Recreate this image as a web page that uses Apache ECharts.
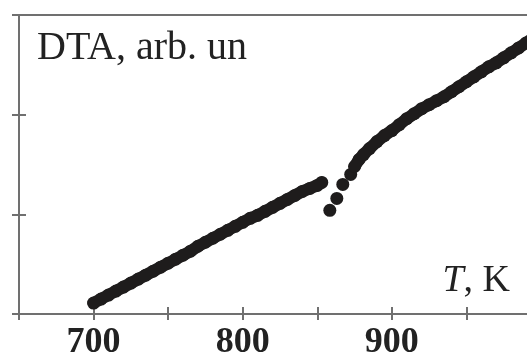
<!DOCTYPE html>
<html>
<head>
<meta charset="utf-8">
<script src="https://cdn.jsdelivr.net/npm/echarts@6.0.0/dist/echarts.min.js"></script>
<style>
  html, body { margin: 0; padding: 0; background: #fff; }
  #chart { width: 527px; height: 358px; }
</style>
</head>
<body>
<div id="chart"></div>
<script>
// temperature (K) and DTA signal (arb. units)
const lowT = [700, 705, 710, 715, 720, 725, 730, 735, 740, 745, 750, 755, 760, 765, 770, 775,
  780, 785, 790, 795, 800, 805, 810, 815, 820, 825, 830, 835, 840, 845, 850, 853];
const lowDTA = [0.11, 0.15, 0.19, 0.23, 0.27, 0.31, 0.35, 0.39, 0.43, 0.47, 0.51, 0.55, 0.59, 0.63, 0.68, 0.72,
  0.76, 0.80, 0.84, 0.88, 0.92, 0.96, 0.99, 1.03, 1.07, 1.11, 1.15, 1.19, 1.23, 1.26, 1.29, 1.32];

// isolated points in the jump
const jumpT = [858.4, 863.1, 867.1, 872.4];
const jumpDTA = [1.04, 1.16, 1.30, 1.40];

const highT = [875, 878, 881, 885, 890, 895, 900, 905, 910, 915, 920, 925, 930, 935, 940, 945,
  950, 955, 960, 965, 970, 975, 980, 985, 990, 995, 1000];
const highDTA = [1.48, 1.55, 1.60, 1.66, 1.73, 1.79, 1.84, 1.90, 1.96, 2.01, 2.06, 2.10, 2.14, 2.18, 2.23, 2.28,
  2.33, 2.38, 2.43, 2.48, 2.52, 2.57, 2.62, 2.67, 2.72, 2.77, 2.81];

const xLabels = [700, 800, 900];

const zip = (xs, ys) => xs.map((x, i) => [x, ys[i]]);
const lowData = zip(lowT, lowDTA);
const jumpData = zip(jumpT, jumpDTA);
const highData = zip(highT, highDTA);

const axisColor = "#707070";
const dotColor = "#1e1c1c";
const serif = "Liberation Serif";

const chart = echarts.init(document.getElementById("chart"));

const option = {
  animation: false,
  grid: { left: 19, right: -14, top: 15, bottom: 44, outerBoundsMode: "none", containLabel: false },
  title: [
    {
      text: "DTA, arb. un",
      left: 32,
      top: 23,
      textStyle: { fontFamily: serif, fontSize: 40, fontWeight: "normal", color: "#222" }
    },
    {
      text: "{i|T}{n|, K}",
      right: 12,
      top: 257,
      textStyle: {
        fontWeight: "normal",
        rich: {
          i: { fontFamily: serif, fontSize: 38, fontStyle: "italic", fontWeight: "normal", color: "#222" },
          n: { fontFamily: serif, fontSize: 38, fontWeight: "normal", color: "#222" }
        }
      }
    }
  ],
  xAxis: [
    {
      type: "value",
      position: "bottom",
      min: 650,
      max: 1000,
      interval: 50,
      splitLine: { show: false },
      axisLine: { lineStyle: { color: axisColor, width: 2 } },
      axisTick: { inside: false, length: 6, lineStyle: { color: axisColor, width: 2 } },
      axisLabel: {
        margin: 11,
        fontFamily: serif,
        fontSize: 36,
        fontWeight: "bold",
        color: "#222",
        formatter: (v) => (xLabels.includes(v) ? String(v) : "")
      }
    },
    {
      type: "value",
      position: "bottom",
      min: 650,
      max: 1000,
      interval: 50,
      splitLine: { show: false },
      axisLine: { show: false },
      axisTick: { inside: true, length: 7, lineStyle: { color: axisColor, width: 2 } },
      axisLabel: { show: false }
    },
    {
      type: "value",
      position: "top",
      min: 650,
      max: 1000,
      splitLine: { show: false },
      axisLine: { lineStyle: { color: axisColor, width: 2 } },
      axisTick: { show: false },
      axisLabel: { show: false }
    }
  ],
  yAxis: [
    {
      type: "value",
      position: "left",
      min: 0,
      max: 3,
      interval: 1,
      splitLine: { show: false },
      axisLine: { lineStyle: { color: axisColor, width: 2 } },
      axisTick: { inside: false, length: 7, lineStyle: { color: axisColor, width: 2 } },
      axisLabel: { show: false }
    },
    {
      type: "value",
      position: "left",
      min: 0,
      max: 3,
      interval: 1,
      splitLine: { show: false },
      axisLine: { show: false },
      axisTick: { inside: true, length: 7, lineStyle: { color: axisColor, width: 2 } },
      axisLabel: { show: false }
    }
  ],
  series: [
    {
      type: "line",
      data: lowData,
      symbol: "none",
      lineStyle: { color: dotColor, width: 12, cap: "round" }
    },
    {
      type: "line",
      data: highData,
      symbol: "none",
      lineStyle: { color: dotColor, width: 12, cap: "round" }
    },
    {
      type: "scatter",
      data: lowData.concat(jumpData, highData),
      symbolSize: 13,
      itemStyle: { color: dotColor, opacity: 1 }
    }
  ]
};

chart.setOption(option);
</script>
</body>
</html>
